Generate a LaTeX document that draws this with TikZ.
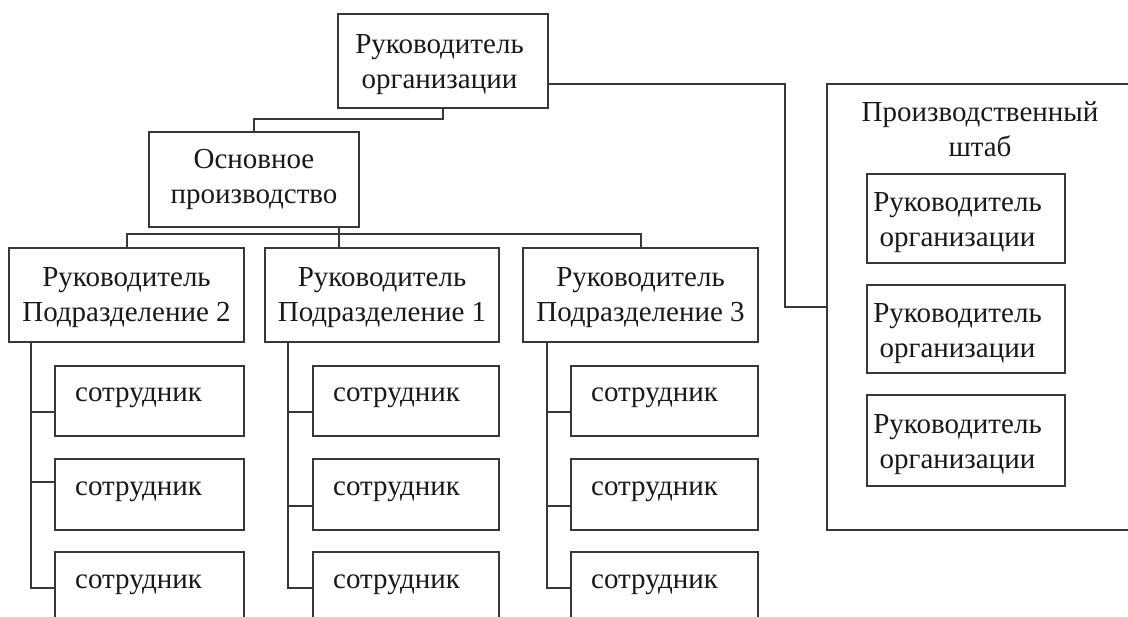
\documentclass[tikz,border=0pt]{standalone}
\usepackage{fontspec}
\setmainfont{Liberation Serif}
\begin{document}
\begin{tikzpicture}[x=1pt,y=-1pt,
  ln/.style={draw=black!78,line width=2pt},
  bx/.style={ln,rectangle,inner sep=0pt},
  hd/.style={bx,minimum width=235pt,minimum height=94pt},
  ebA/.style={bx,minimum width=189pt},
  ebB/.style={bx,minimum width=186pt},
  ebC/.style={bx,minimum width=187pt},
  inb/.style={bx,minimum width=198pt,minimum height=89pt},
  tx/.style={inner sep=0pt,align=center,text=black!90,font=\fontsize{29}{35}\selectfont},
  et/.style={inner sep=0pt,anchor=base west,text=black!90,font=\fontsize{29}{35}\selectfont}]
\useasboundingbox (0,0) rectangle (1128,617);
\fill[white] (0,0) rectangle (1128,617);

% top level
\node[bx,minimum width=210pt,minimum height=94pt] (top) at (442.5,61) {};
\node[tx] (topt) at ([xshift=-3pt,yshift=-4pt]top.center) {Руководитель\\организации};

\node[bx,minimum width=210pt,minimum height=95pt] (osn) at (254,179.5) {};
\node[tx] (osnt) at (osn.center) {Основное\\производство};

% heads of divisions
\node[hd] (hA) at (126.5,295) {};
\node[tx] (hAt) at ([yshift=-3pt]hA.center) {Руководитель\\Подразделение 2};
\node[hd,minimum width=234pt] (hB) at (382,295) {};
\node[tx] (hBt) at ([yshift=-3pt]hB.center) {Руководитель\\Подразделение 1};
\node[hd] (hC) at (640.5,295) {};
\node[tx] (hCt) at ([yshift=-3pt]hC.center) {Руководитель\\Подразделение 3};

% employees
\node[ebA,minimum height=70pt] (eA1) at (149.5,401) {};
\node[ebA,minimum height=71pt] (eA2) at (149.5,494.5) {};
\node[ebA,minimum height=71pt] (eA3) at (149.5,587.5) {};
\node[ebB,minimum height=70pt] (eB1) at (406,401) {};
\node[ebB,minimum height=71pt] (eB2) at (406,494.5) {};
\node[ebB,minimum height=71pt] (eB3) at (406,587.5) {};
\node[ebC,minimum height=70pt] (eC1) at (664.5,401) {};
\node[ebC,minimum height=71pt] (eC2) at (664.5,494.5) {};
\node[ebC,minimum height=71pt] (eC3) at (664.5,587.5) {};
\foreach \e in {eA1,eA2,eA3,eB1,eB2,eB3,eC1,eC2,eC3}{
  \node[et] (\e t) at ([xshift=21pt,yshift=-1pt]\e.west) {сотрудник};
}

% staff block
\node[bx,minimum width=306pt,minimum height=446pt] (big) at (980,307) {};
\node[tx] (bigt) at (980,129.5) {Производственный\\штаб};
\node[inb] (s1) at (966,218.5) {};
\node[inb,minimum height=88pt] (s2) at (966,329) {};
\node[inb,minimum height=91pt] (s3) at (966,440.5) {};
\node[tx] (s1t) at ([xshift=-8.5pt,yshift=-4.5pt]s1.center) {Руководитель\\организации};
\node[tx] (s2t) at ([xshift=-8.5pt,yshift=-4.5pt]s2.center) {Руководитель\\организации};
\node[tx] (s3t) at ([xshift=-8.5pt,yshift=-4.5pt]s3.center) {Руководитель\\организации};

% connectors
\draw[ln] (top.south) -- ++(0,10) -| (osn.north);
\coordinate (od) at ([xshift=-21pt]osn.south east);
\draw[ln] (od) -- (od |- hB.north);
\draw[ln] (hA.north) -- ++(0,-13) -| (hC.north);

\coordinate (rs) at ([yshift=-23pt]top.east);
\coordinate (rj) at ([xshift=-41pt]big.west);
\draw[ln] (rs) -| (rj) -- (big.west);

\coordinate (vA) at ([xshift=22.5pt]hA.south west);
\coordinate (vB) at ([xshift=24pt]hB.south west);
\coordinate (vC) at ([xshift=25pt]hC.south west);
\draw[ln] (vA) |- (eA3.west);
\draw[ln] (vB) |- (eB3.west);
\draw[ln] (vC) |- (eC3.west);
\coordinate (cA1) at ([yshift=-11pt]eA1.west);
\coordinate (cA2) at ([yshift=12.5pt]eA2.west);
\coordinate (cB1) at ([yshift=-11pt]eB1.west);
\coordinate (cB2) at ([yshift=-11.5pt]eB2.west);
\coordinate (cC1) at ([yshift=-11pt]eC1.west);
\coordinate (cC2) at ([yshift=-11.5pt]eC2.west);
\draw[ln] (cA1) -- (cA1 -| vA);
\draw[ln] (cA2) -- (cA2 -| vA);
\draw[ln] (cB1) -- (cB1 -| vB);
\draw[ln] (cB2) -- (cB2 -| vB);
\draw[ln] (cC1) -- (cC1 -| vC);
\draw[ln] (cC2) -- (cC2 -| vC);
\end{tikzpicture}
\end{document}
